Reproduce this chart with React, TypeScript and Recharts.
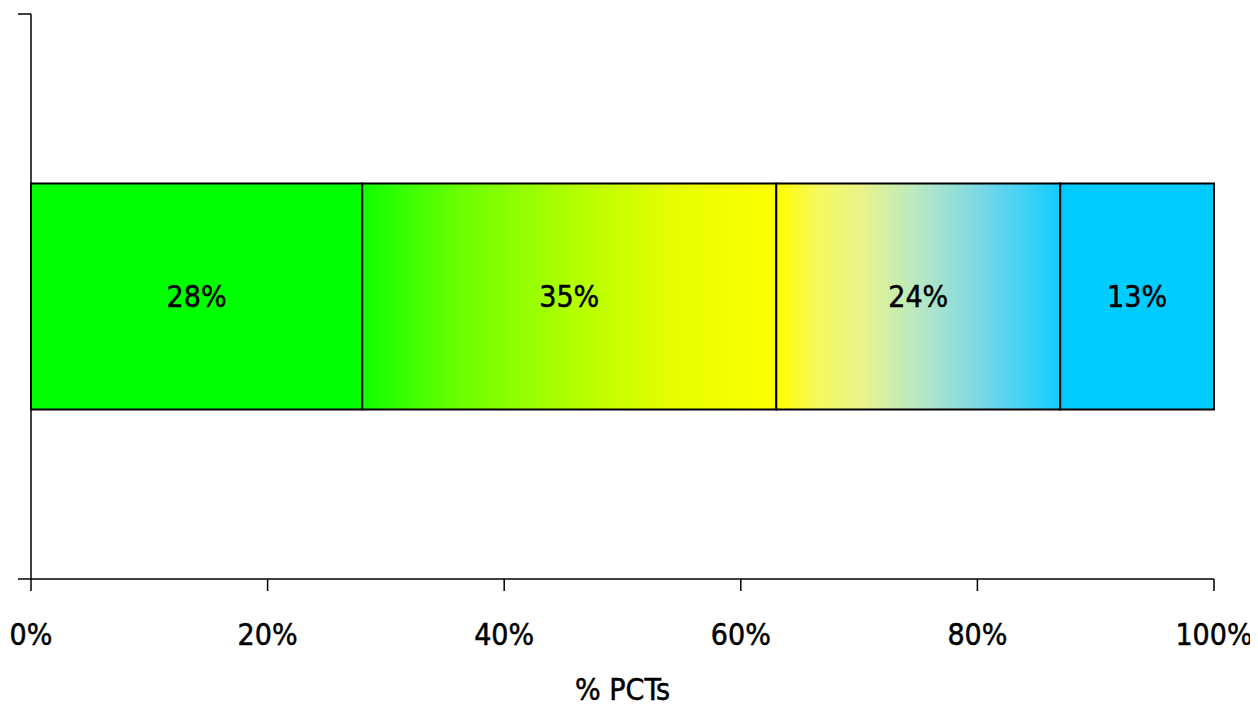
import React from 'react';
import { BarChart, Bar, XAxis, YAxis, LabelList } from 'recharts';

const categories = ['PCTs'];
const categoryCentre = [0.5];
const seriesNames = ['s1', 's2', 's3', 's4'];
const seriesValues = [28, 35, 24, 13];
const xTicks = [0, 20, 40, 60, 80, 100];
const yTicks = [0, 1];
const xLabel = '% PCTs';

const data = categories.map((c, ci) => {
  const row: Record<string, any> = { name: c, pos: categoryCentre[ci] };
  seriesNames.forEach((s, i) => (row[s] = seriesValues[i]));
  return row;
});

const fills = ['#00ff00', 'url(#gradGY)', 'url(#gradYB)', '#00ccff'];
const FONT = "'DejaVu Sans Condensed', 'Liberation Sans Narrow', sans-serif";
const textStyle = { fontFamily: FONT, fontSize: 30, fill: '#000', stroke: '#000', strokeWidth: 0.5 };

export default function App() {
  return (
    <div style={{ width: 1250, height: 700, position: 'relative' }}>
      <svg width={0} height={0} style={{ position: 'absolute' }}>
        <defs>
          <linearGradient id="gradGY" x1="0" y1="0" x2="1" y2="0">
            <stop offset="0" stopColor="#10ff00" />
            <stop offset="0.25" stopColor="#70ff00" />
            <stop offset="0.5" stopColor="#b0ff00" />
            <stop offset="0.75" stopColor="#e6ff00" />
            <stop offset="1" stopColor="#ffff00" />
          </linearGradient>
          <linearGradient id="gradYB" x1="0" y1="0" x2="1" y2="0">
            <stop offset="0" stopColor="#ffff00" />
            <stop offset="0.15" stopColor="#f6f960" />
            <stop offset="0.3" stopColor="#e8f58a" />
            <stop offset="0.5" stopColor="#b8e8c4" />
            <stop offset="0.75" stopColor="#70d6ea" />
            <stop offset="1" stopColor="#12ccff" />
          </linearGradient>
        </defs>
      </svg>
      <BarChart
        width={1250}
        height={700}
        data={data}
        layout="vertical"
        margin={{ top: 6, right: 44, bottom: 0, left: 9 }}
      >
        <XAxis
          type="number"
          domain={[0, 100]}
          ticks={xTicks}
          interval={0}
          tickFormatter={(v: number) => `${v}%`}
          tickSize={12}
          tickMargin={33}
          height={129}
          stroke="#000"
          strokeWidth={1.5}
          tick={textStyle}
          label={{
            value: xLabel,
            position: 'insideBottom',
            offset: 8,
            style: textStyle,
          }}
        />
        <YAxis
          type="number"
          dataKey="pos"
          domain={[0, 1]}
          ticks={yTicks}
          interval={0}
          allowDataOverflow
          width={14}
          tickSize={13}
          tickMargin={0}
          tick={{ fontSize: 1, fill: 'none' }}
          tickFormatter={() => ''}
          axisLine={{ stroke: '#000', strokeWidth: 1.5 }}
          tickLine={{ stroke: '#000', strokeWidth: 1.5 }}
        />
        {seriesNames.map((s, i) => (
          <Bar
            key={s}
            dataKey={s}
            stackId="a"
            fill={fills[i]}
            stroke="#000"
            strokeWidth={2}
            barSize={226}
            isAnimationActive={false}
          >
            <LabelList
              dataKey={s}
              position="center"
              formatter={(v: any) => `${v}%`}
              style={textStyle}
            />
          </Bar>
        ))}
      </BarChart>
    </div>
  );
}
